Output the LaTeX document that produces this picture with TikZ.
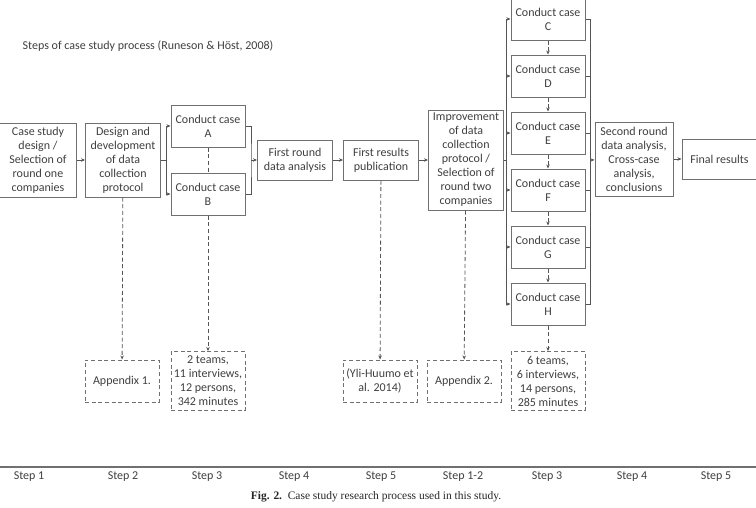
\documentclass[tikz,border=0pt]{standalone}
\usepackage{fontspec}
\setmainfont{Carlito}
\newfontfamily\capfont{Liberation Serif}
\usepackage{xcolor}
\usepackage{tikz}
\usetikzlibrary{arrows.meta, positioning}

\definecolor{boxline}{HTML}{707070}
\definecolor{wire}{HTML}{555555}
\definecolor{txt}{HTML}{3F3F3F}

\begin{document}
\begin{tikzpicture}[
        x=0.75pt, y=-0.75pt,
        base/.style={
            draw=boxline, align=center, line width=0.75pt, text=txt,
            inner sep=1pt, font=\fontsize{9}{10.5}\selectfont
        },
        stepbox/.style={base, minimum width=56.25pt, minimum height=30pt},
        casebox/.style={base, minimum width=55.5pt, minimum height=31.5pt},
        notebox/.style={base, dashed, dash pattern=on 3pt off 2pt, minimum width=55.5pt, minimum height=31.5pt},
        label/.style={text=txt, font=\fontsize{9}{10.5}\selectfont},
        arrow/.style={draw=wire, line width=0.6pt, -{Stealth[length=3pt, width=2.6pt]}},
        wire/.style={draw=wire, line width=0.6pt},
        dasharrow/.style={arrow, dash pattern=on 3pt off 2pt},
        dashline/.style={wire, dash pattern=on 3pt off 2pt}
    ]
        \useasboundingbox (0,0) rectangle (756,507);

        % Titel
        \node[label, anchor=west] (title) at (18,46) {Steps of case study process (Runeson \& Höst, 2008)};

        % Erste Runde
        \node[stepbox, minimum width=57.75pt, minimum height=55.5pt] (design) at (38,160) {Case study\\ design /\\ Selection of\\ round one\\ companies};

        \node[stepbox, minimum height=55.5pt, right=6pt of design] (protocol) {Design and\\ development\\ of data\\ collection\\ protocol};

        \node[casebox] (caseA) at (208,126) {Conduct case\\ A};

        \node[casebox, below=18.75pt of caseA] (caseB) {Conduct case\\ B};

        \node[stepbox] (round1) at (295,160) {First round\\ data analysis};

        \node[stepbox, right=7.5pt of round1] (publish) {First results\\ publication};

        % Zweite Runde
        \node[stepbox, minimum height=75pt, right=6.75pt of publish] (improve) {Improvement\\ of data\\ collection\\ protocol /\\ Selection of\\ round two\\ companies};

        \node[casebox] (caseC) at (548,19) {Conduct case\\ C};

        \node[casebox, below=10.5pt of caseC] (caseD) {Conduct case\\ D};

        \node[casebox, below=10.5pt of caseD] (caseE) {Conduct case\\ E};

        \node[casebox, below=10.5pt of caseE] (caseF) {Conduct case\\ F};

        \node[casebox, below=10.5pt of caseF] (caseG) {Conduct case\\ G};

        \node[casebox, below=10.5pt of caseG] (caseH) {Conduct case\\ H};

        \node[stepbox, minimum width=58.5pt, minimum height=55.5pt] (round2) at (634,159) {Second round\\ data analysis,\\ Cross-case\\ analysis,\\ conclusions};

        \node[stepbox, right=6pt of round2] (final) {Final results};

        % Notizen
        \node[notebox] (app1) at (122,381) {Appendix 1.};

        \node[notebox, minimum height=44.25pt] (teams1) at (208,381) {2 teams,\\ 11 interviews,\\ 12 persons,\\ 342 minutes};

        \node[notebox] (yli) at (380,381) {(Yli-Huumo et\\ al. 2014)};

        \node[notebox] (app2) at (464,381) {Appendix 2.};

        \node[notebox, minimum height=44.25pt] (teams2) at (548,381) {6 teams,\\ 6 interviews,\\ 14 persons,\\ 285 minutes};

        % Verzweigungen
        \coordinate (splitAB) at (166,160);
        \coordinate (joinAB) at (251,160);
        \coordinate (splitCH) at (506,160);
        \coordinate (joinCH) at (590,160);

        % Pfeile
        \draw[arrow] (design) -- (protocol);
        \draw[wire] (protocol) -- (splitAB);
        \draw[arrow] (splitAB) |- (caseA);
        \draw[arrow] (splitAB) |- (caseB);
        \draw[wire] (caseA) -| (joinAB) |- (caseB);
        \draw[arrow] (joinAB) -- (round1);
        \draw[arrow] (round1) -- (publish);
        \draw[arrow] (publish) -- (improve);

        \draw[wire] (improve) -- (splitCH);
        \draw[arrow] (splitCH) |- (caseC);
        \draw[arrow] (splitCH) |- (caseD);
        \draw[arrow] (splitCH) |- (caseE);
        \draw[arrow] (splitCH) |- (caseF);
        \draw[arrow] (splitCH) |- (caseG);
        \draw[arrow] (splitCH) |- (caseH);
        \draw[wire] (caseC) -| (joinCH) |- (caseH);
        \draw[wire] (caseD) -| (joinCH);
        \draw[wire] (caseE) -| (joinCH);
        \draw[wire] (caseF) -| (joinCH);
        \draw[wire] (caseG) -| (joinCH);
        \draw[arrow] (joinCH) -- (round2);
        \draw[arrow] (round2) -- (final);

        % Gestrichelte Verbindungen
        \draw[dashline] (caseA) -- (caseB);
        \draw[dasharrow] (caseC) -- (caseD);
        \draw[dasharrow] (caseD) -- (caseE);
        \draw[dasharrow] (caseE) -- (caseF);
        \draw[dasharrow] (caseF) -- (caseG);
        \draw[dasharrow] (caseG) -- (caseH);
        \draw[dasharrow] (protocol) -- (app1);
        \draw[dasharrow] (caseB) -- (teams1);
        \draw[dasharrow] (publish) -- (yli);
        \draw[dasharrow] (improve) -- (app2);
        \draw[dasharrow] (caseH) -- (teams2);

        % Schritte
        \draw[boxline, line width=1.1pt] (0,467) -- (756,467);
        \node[label] (s1) at (29,477) {Step 1};
        \node[label] (s2) at (123,477) {Step 2};
        \node[label] (s3) at (207,477) {Step 3};
        \node[label] (s4) at (294,477) {Step 4};
        \node[label] (s5) at (381,477) {Step 5};
        \node[label] (s12) at (463,477) {Step 1-2};
        \node[label] (s3b) at (547,477) {Step 3};
        \node[label] (s4b) at (632,477) {Step 4};
        \node[label] (s5b) at (716,477) {Step 5};

        \node[font=\capfont\fontsize{8.6}{10}\selectfont, text=black!85] (caption) at (376,497) {\textbf{Fig. 2.}\ \ Case study research process used in this study.};

    \end{tikzpicture}
\end{document}
